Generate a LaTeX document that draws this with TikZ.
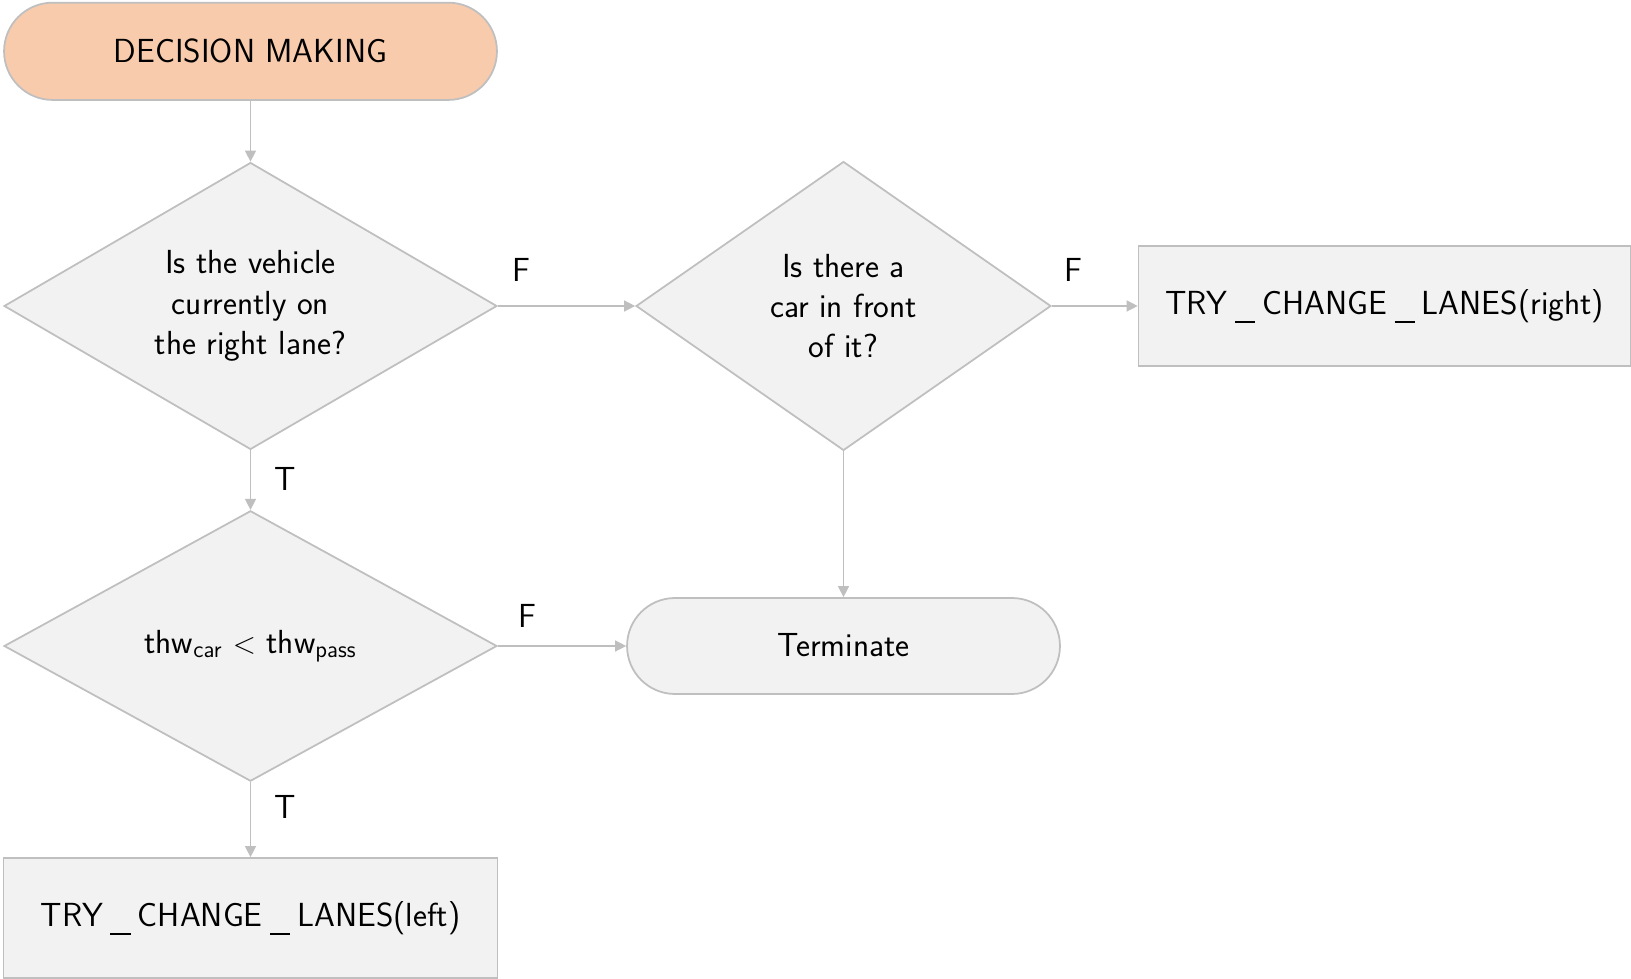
\documentclass[tikz,border=0pt]{standalone}
\usepackage{fontspec}
\usetikzlibrary{shapes.geometric,arrows.meta}
\definecolor{peach}{HTML}{F8CBAD}
\definecolor{boxfill}{HTML}{F2F2F2}
\definecolor{edgegray}{HTML}{BFBFBF}
\newcommand{\usc}{\kern0.22em\rule[-0.26em]{0.6em}{0.06em}\kern0.22em}
\begin{document}
\begin{tikzpicture}[x=0.02cm,y=-0.02cm,
  every node/.style={font=\sffamily\fontsize{19}{22.9}\selectfont, text=black},
  base/.style={draw=edgegray, line width=1pt, fill=boxfill, inner sep=0pt, align=center},
  dec/.style={base, diamond, shape aspect=1.7},
  proc/.style={base, rectangle},
  arr/.style={draw=edgegray, line width=0.8pt, -{Triangle[length=0.22cm,width=0.22cm]}},
  lbl/.style={inner sep=0pt}
]
\useasboundingbox (0,0) rectangle (1631,979);

\node[base, fill=peach, rounded corners=0.973cm, minimum width=9.86cm, minimum height=1.946cm] (start) at (250.5,51.3) {DECISION MAKING};
\node[dec, minimum width=9.86cm, minimum height=5.74cm] (d1) at (250.5,306) {Is the vehicle\\currently on\\the right lane?};
\node[dec, minimum width=8.3cm, minimum height=5.78cm] (d2) at (843.5,306) {Is there a\\car in front\\of it?};
\node[proc, minimum width=9.84cm, minimum height=2.414cm] (r1) at (1384.5,306) {TRY\usc CHANGE\usc LANES(right)};
\node[dec, minimum width=9.86cm, minimum height=5.41cm] (d3) at (250.5,646) {thw\textsubscript{car} $<$ thw\textsubscript{pass}};
\node[base, rounded corners=0.96cm, minimum width=8.66cm, minimum height=1.92cm] (term) at (843.5,646) {\raisebox{0.06cm}{Terminate}};
\node[proc, minimum width=9.88cm, minimum height=2.4cm] (r2) at (250.5,918) {TRY\usc CHANGE\usc LANES(left)};

\draw[arr] (start) -- (d1);
\draw[arr] (d1) -- (d2);
\draw[arr] (d2) -- (r1);
\draw[arr] (d1) -- (d3);
\draw[arr] (d2) -- (term);
\draw[arr] (d3) -- (term);
\draw[arr] (d3) -- (r2);

\node[lbl] (f1) at (521.3,269.5) {F};
\node[lbl] (f2) at (1073.9,269.5) {F};
\node[lbl] (t1) at (285.5,479) {T};
\node[lbl] (f3) at (527.6,616) {F};
\node[lbl] (t2) at (285.5,806.5) {T};
\end{tikzpicture}
\end{document}
